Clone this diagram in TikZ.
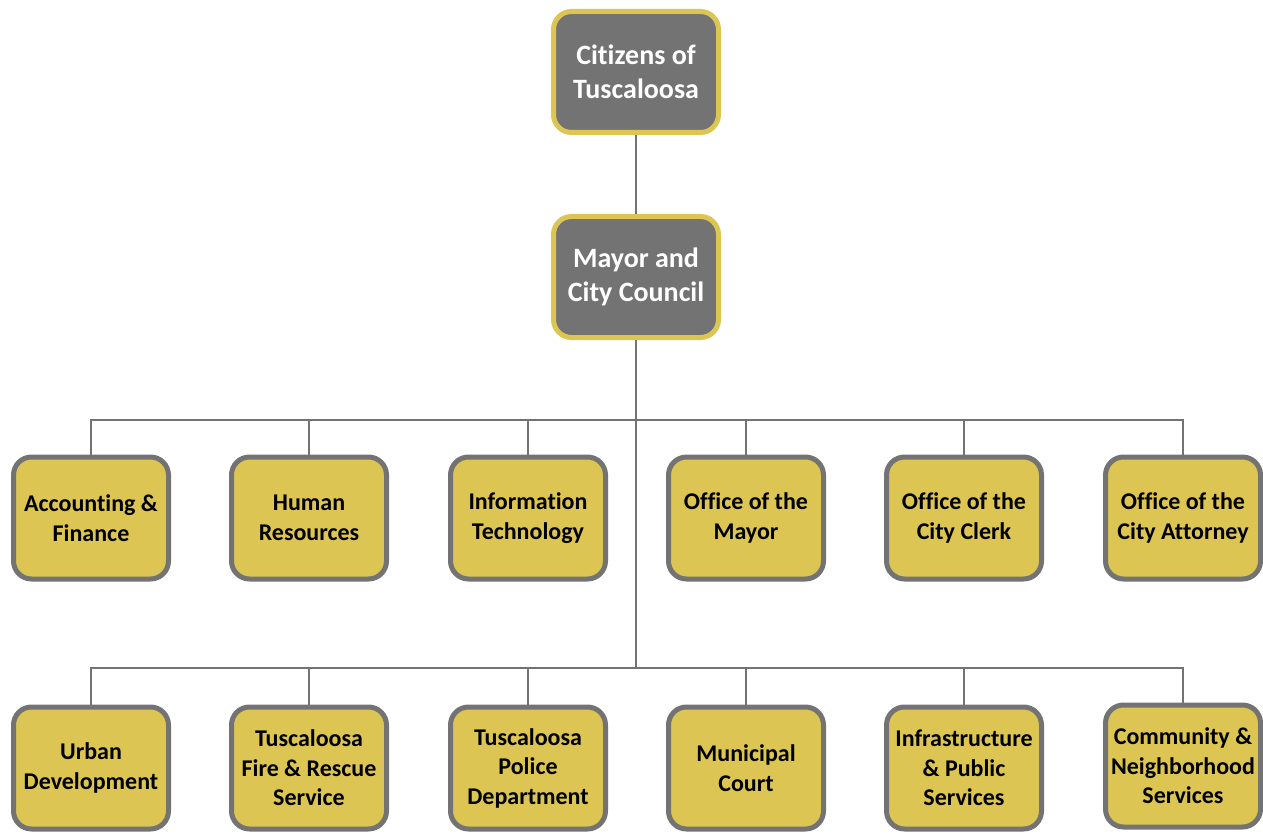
\documentclass[tikz,border=0pt]{standalone}
\usepackage{fontspec}
\setmainfont{Carlito}[Ligatures={NoCommon}]
\definecolor{gold}{HTML}{DCC552}
\definecolor{slate}{HTML}{737373}
\begin{document}
\begin{tikzpicture}[x=1pt,y=-1pt,
  topbox/.style={draw=gold,fill=slate,line width=5pt,rounded corners=18pt,
    minimum width=165pt,minimum height=121pt,align=center,text=white,
    font=\fontsize{28}{34}\selectfont\bfseries},
  deptbox/.style={draw=slate,fill=gold,line width=5pt,rounded corners=18pt,
    minimum width=155pt,minimum height=122pt,align=center,text=black,inner sep=0pt,
    font=\fontsize{24}{29.5}\selectfont\bfseries},
  link/.style={draw=slate,line width=2pt}]
\useasboundingbox (0,0) rectangle (1263,834);
\node[topbox] (cit) at (636,72) {Citizens of\\Tuscaloosa};
\node[topbox] (may) at (636,277) {Mayor and\\City Council};
\coordinate (bus1) at (636,420);
\coordinate (bus2) at (636,668);
\node[deptbox] (acc) at (91,518) {Accounting \&\\Finance};
\node[deptbox] (hr) at (309,518) {Human\\Resources};
\node[deptbox] (it) at (528,518) {Information\\Technology};
\node[deptbox] (om) at (746,518) {Office of the\\Mayor};
\node[deptbox] (cc) at (964,518) {Office of the\\City Clerk};
\node[deptbox] (ca) at (1183,518) {Office of the\\City Attorney};
\node[deptbox] (ud) at (91,768) {Urban\\Development};
\node[deptbox] (fr) at (309,768) {Tuscaloosa\\Fire \& Rescue\\Service};
\node[deptbox] (pd) at (528,768) {Tuscaloosa\\Police\\Department};
\node[deptbox] (mc) at (746,768) {Municipal\\Court};
\node[deptbox] (ip) at (964,768) {Infrastructure\\\& Public\\Services};
\node[deptbox] (cn) at (1183,766) {Community \&\\Neighborhood\\Services};
\draw[link] (cit.south) -- (may.north);
\draw[link] (may.south) -- (bus2);
\foreach \n in {acc,hr,it,om,cc,ca} \draw[link] (\n.north) |- (bus1);
\foreach \n in {ud,fr,pd,mc,ip,cn} \draw[link] (\n.north) |- (bus2);
\end{tikzpicture}
\end{document}
